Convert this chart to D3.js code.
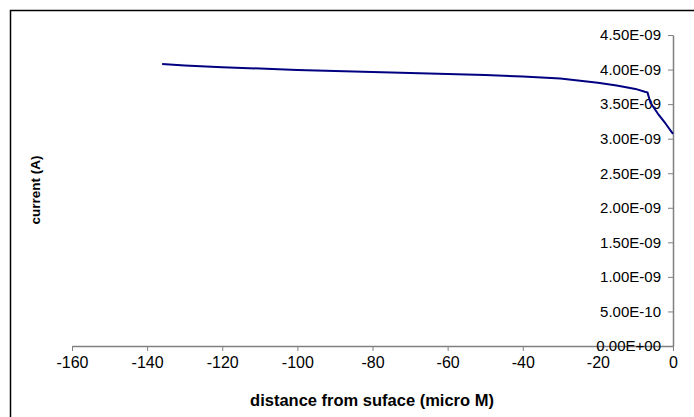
<!DOCTYPE html>
<html>
<head>
<meta charset="utf-8">
<script src="https://cdn.jsdelivr.net/npm/d3@7"></script>
<style>
  html, body { margin: 0; padding: 0; background: #fff; overflow: hidden; }
  svg { display: block; }
</style>
</head>
<body>
<svg id="chart" width="694" height="417"></svg>
<script>
const distance = [-136, -130, -120, -110, -100, -90, -80, -70, -60, -50, -40, -30, -20, -15, -10, -7.5, -6.8, -6, -4, -2, 0];
const current = [4.08e-9, 4.06e-9, 4.035e-9, 4.015e-9, 3.995e-9, 3.98e-9, 3.965e-9, 3.95e-9, 3.935e-9, 3.92e-9, 3.90e-9, 3.87e-9, 3.81e-9, 3.77e-9, 3.72e-9, 3.68e-9, 3.67e-9, 3.52e-9, 3.36e-9, 3.22e-9, 3.07e-9];
const xTicks = [-160, -140, -120, -100, -80, -60, -40, -20, 0];
const yTicks = [0, 0.5e-9, 1e-9, 1.5e-9, 2e-9, 2.5e-9, 3e-9, 3.5e-9, 4e-9, 4.5e-9];
const xTitle = "distance from suface (micro M)";
const yTitle = "current (A)";

const svg = d3.select("#chart");
const font = "'Liberation Sans', Arial, sans-serif";

// outer frame
svg.append("rect").attr("x", 10.5).attr("y", 10.5).attr("width", 720).attr("height", 450)
  .attr("fill", "#fff").attr("stroke", "#000").attr("stroke-width", 1.5);

const x = d3.scaleLinear().domain([-160, 0]).range([72, 673]);
const y = d3.scaleLinear().domain([0, 4.5e-9]).range([346, 35]);

function fmtE(v) {
  if (v === 0) return "0.00E+00";
  let e = Math.floor(Math.log10(Math.abs(v)) + 1e-9);
  let m = v / Math.pow(10, e);
  const sign = e < 0 ? "-" : "+";
  const ea = Math.abs(e);
  return m.toFixed(2) + "E" + sign + (ea < 10 ? "0" : "") + ea;
}

// x axis
const xAxis = svg.append("g").attr("transform", "translate(0,346)")
  .call(d3.axisBottom(x).tickValues(xTicks).tickSize(5).tickSizeOuter(0).tickPadding(6).tickFormat(d => String(d)));
xAxis.select(".domain").attr("stroke", "#808080").attr("stroke-width", 1.5);
xAxis.selectAll(".tick line").attr("stroke", "#808080");
xAxis.selectAll("text").attr("font-family", font).attr("font-size", 16).attr("fill", "#000");

// y axis (at x = 0)
const yAxis = svg.append("g").attr("transform", `translate(${x(0)},0)`)
  .call(d3.axisLeft(y).tickValues(yTicks).tickSize(5).tickSizeOuter(0).tickPadding(7).tickFormat(fmtE));
yAxis.select(".domain").attr("stroke", "#808080").attr("stroke-width", 1.5);
yAxis.selectAll(".tick line").attr("stroke", "#808080");
yAxis.selectAll("text").attr("font-family", font).attr("font-size", 15).attr("fill", "#000");

// line
const line = d3.line().x((d, i) => x(distance[i])).y((d, i) => y(current[i]));
svg.append("path").datum(current).attr("d", line)
  .attr("fill", "none").attr("stroke", "#000080").attr("stroke-width", 2).attr("stroke-linejoin", "round");

// titles
svg.append("text").attr("x", 372).attr("y", 406).attr("text-anchor", "middle")
  .attr("font-family", font).attr("font-weight", "bold").attr("font-size", 16.5).text(xTitle);
svg.append("text").attr("transform", "translate(40,190) rotate(-90)").attr("text-anchor", "middle")
  .attr("font-family", font).attr("font-weight", "bold").attr("font-size", 13.5).text(yTitle);
</script>
</body>
</html>
